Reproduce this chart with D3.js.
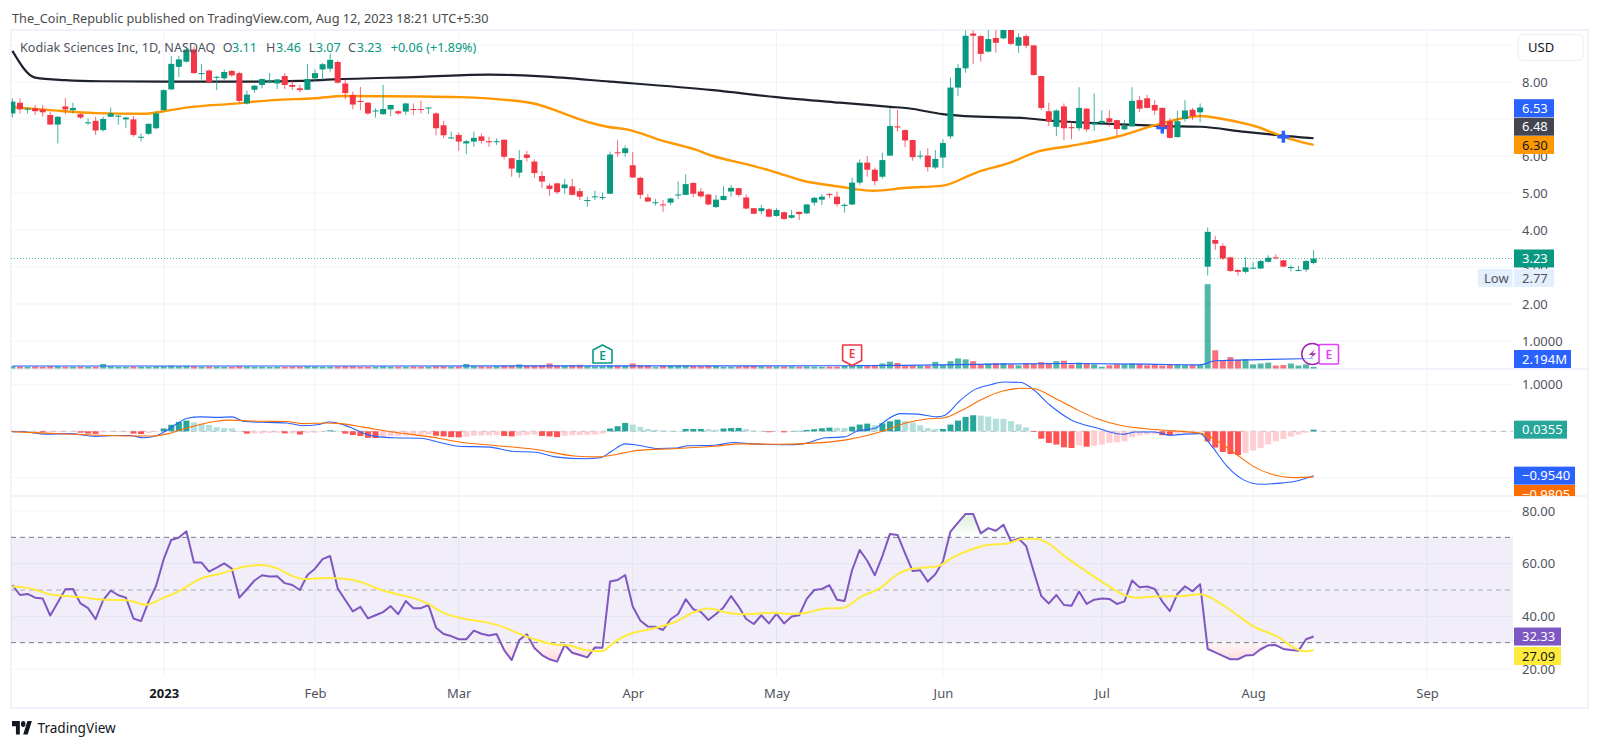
<!DOCTYPE html>
<html><head><meta charset="utf-8">
<script src="https://cdn.jsdelivr.net/npm/d3@7/dist/d3.min.js"></script>
<style>
html,body{margin:0;padding:0;background:#fff;overflow:hidden}
text{font-family:"Noto Sans",sans-serif;font-size:13px}
</style></head><body><svg id="c" width="1600" height="747"></svg>
<script>
const headerText="The_Coin_Republic published on TradingView.com, Aug 12, 2023 18:21 UTC+5:30";
const symbolText="Kodiak Sciences Inc, 1D, NASDAQ";
const opens=[7.15,7.44,7.26,7.29,7.26,7.11,6.85,7.34,7.24,7.13,
6.89,6.95,6.70,7.06,7.08,6.99,6.99,6.51,6.60,6.75,
7.24,7.80,8.41,8.55,8.88,8.23,8.31,8.13,8.10,8.30,
8.24,7.42,7.79,7.92,8.00,7.96,8.16,7.92,7.83,7.79,
8.10,8.34,8.36,8.54,7.96,7.65,7.49,7.44,7.21,7.13,
7.26,7.21,7.20,7.27,7.27,7.30,7.15,6.83,6.49,6.57,
6.34,6.39,6.53,6.40,6.39,6.44,5.94,5.55,6.04,5.85,
5.46,5.20,5.26,5.13,5.18,5.05,4.80,4.90,4.88,4.98,
6.10,6.08,5.75,5.41,4.88,4.74,4.69,4.74,4.95,4.95,
5.27,5.04,4.96,4.62,4.81,5.04,5.13,4.88,4.59,4.51,
4.56,4.38,4.48,4.33,4.49,4.45,4.74,4.82,4.97,4.90,
4.65,4.69,5.28,5.82,5.63,5.44,6.01,6.80,6.70,6.43,
6.00,6.01,5.69,5.96,6.53,7.85,8.37,9.31,9.24,8.82,
9.19,9.18,9.45,8.98,9.24,8.99,8.16,7.21,6.79,7.34,
6.78,6.75,7.28,6.85,6.89,7.02,6.97,6.72,6.80,7.51,
7.56,7.38,7.30,6.94,6.51,7.00,7.25,7.18,3.01,3.73,
3.57,3.26,2.92,2.87,2.96,2.96,3.14,3.26,3.18,2.97,2.91,2.93,3.11];
const highs=[7.56,7.56,7.32,7.38,7.38,7.20,7.08,7.56,7.44,7.15,
7.02,7.06,7.06,7.31,7.11,7.06,7.08,6.61,6.88,7.20,
7.80,8.70,8.70,8.96,8.96,8.49,8.34,8.16,8.34,8.32,
8.28,7.77,7.92,8.10,8.25,8.07,8.24,8.04,7.92,8.49,
8.34,8.52,8.77,8.58,8.07,7.74,7.87,7.46,7.29,7.92,
7.38,7.24,7.44,7.42,7.50,7.31,7.18,6.95,6.66,6.64,
6.43,6.66,6.61,6.52,6.48,6.45,5.94,6.16,6.14,5.91,
5.59,5.26,5.28,5.38,5.38,5.13,4.90,5.06,5.01,6.12,
6.43,6.28,6.11,5.44,4.97,4.84,4.81,4.88,5.31,5.51,
5.29,5.13,4.97,4.95,5.19,5.22,5.14,4.96,4.60,4.68,
4.59,4.59,4.50,4.54,4.50,4.70,4.90,4.97,5.00,5.04,
4.72,5.41,5.91,6.00,5.69,6.09,7.29,7.24,6.72,6.43,
6.14,6.21,6.16,6.45,8.12,8.49,9.40,9.40,9.27,9.45,
9.45,9.50,9.50,9.32,9.29,9.00,8.16,7.44,7.26,7.42,
6.93,7.86,7.30,7.69,7.23,7.24,6.97,6.97,7.86,7.62,
7.65,7.51,7.31,7.02,7.23,7.51,7.30,7.42,4.07,3.84,
3.64,3.28,2.94,3.26,3.14,3.19,3.32,3.34,3.19,3.05,3.03,3.19,3.46];
const lows=[7.04,7.15,7.15,7.11,7.06,6.84,6.34,7.13,7.15,7.00,
6.84,6.57,6.66,7.05,6.84,6.75,6.52,6.39,6.57,6.72,
7.23,7.78,8.13,8.52,8.22,8.07,7.96,7.78,8.05,8.14,
7.44,7.39,7.71,7.83,7.96,7.81,7.81,7.78,7.71,7.78,
8.03,8.05,8.28,7.96,7.53,7.26,7.24,7.11,7.04,7.11,
7.08,7.11,7.11,7.11,7.15,7.14,6.55,6.48,6.46,6.14,
6.05,6.25,6.34,6.25,6.30,5.91,5.44,5.41,5.85,5.41,
5.13,4.93,4.97,4.98,4.93,4.81,4.63,4.81,4.81,4.97,
5.98,5.98,5.41,4.84,4.76,4.66,4.49,4.67,4.84,4.94,
4.88,4.87,4.67,4.59,4.80,4.90,4.90,4.56,4.43,4.42,
4.34,4.36,4.27,4.31,4.27,4.43,4.66,4.68,4.86,4.63,
4.47,4.67,5.22,5.44,5.20,5.39,6.00,6.66,6.24,5.87,
5.91,5.58,5.65,5.67,6.46,7.62,8.25,8.49,8.55,8.80,
8.79,9.16,9.00,8.79,8.91,8.17,7.24,6.81,6.54,6.43,
6.45,6.68,6.66,6.68,6.83,6.79,6.54,6.70,6.79,7.19,
7.29,7.11,6.78,6.47,6.50,6.93,6.97,6.91,2.77,3.46,
3.19,2.87,2.77,2.83,2.95,2.95,3.12,3.21,2.99,2.88,2.89,2.87,3.07];
const closes=[7.47,7.26,7.28,7.21,7.18,6.85,7.06,7.26,7.30,7.04,
6.91,6.69,7.00,7.15,7.09,7.04,6.57,6.52,6.87,7.15,
7.78,8.49,8.61,8.88,8.24,8.24,8.00,8.14,8.27,8.18,
7.49,7.66,7.90,8.08,8.02,8.07,7.92,7.87,7.78,8.08,
8.24,8.48,8.60,7.98,7.70,7.39,7.46,7.15,7.23,7.27,
7.38,7.15,7.42,7.25,7.25,7.31,6.75,6.56,6.50,6.39,
6.40,6.49,6.41,6.37,6.40,5.98,5.66,5.89,5.95,5.54,
5.31,5.11,5.02,5.23,4.95,4.90,4.81,4.91,4.89,6.04,
6.08,6.21,5.42,4.95,4.77,4.75,4.67,4.85,4.96,5.24,
4.98,4.91,4.69,4.82,4.92,5.14,4.95,4.58,4.44,4.59,
4.36,4.54,4.30,4.40,4.43,4.69,4.87,4.90,4.95,4.70,
4.68,5.28,5.82,5.63,5.32,5.89,6.81,6.77,6.42,5.97,
6.01,5.70,5.92,6.35,7.85,8.38,9.25,9.25,8.76,9.16,
9.06,9.45,9.03,9.21,8.98,8.19,7.30,6.93,7.23,6.75,
6.75,7.30,6.72,6.90,6.95,6.92,6.73,6.81,7.49,7.28,
7.30,7.23,6.79,6.49,6.94,7.23,7.08,7.31,3.95,3.63,
3.23,2.89,2.87,2.99,2.98,3.16,3.25,3.24,3.01,3.00,2.92,3.16,3.23];
const volumes=[.5,.45,.4,.45,.4,.5,.5,.4,.4,.45,
.4,.4,1.0,.5,.4,.4,.45,.4,.4,.5,
.5,.6,.5,.55,.5,.4,.45,.4,.4,.4,
.5,.45,.4,.4,.35,.4,.4,.45,.45,.5,
.45,.4,.4,.45,.5,.5,.4,.4,.4,.5,
.4,.4,.4,.45,.4,.4,.5,.5,.4,.45,
1.0,.5,.45,.4,.5,.6,.55,.9,.6,.65,
.75,1.1,.7,.6,.75,.8,.5,.45,.5,.66,
.6,.6,1.1,.7,.65,.3,.6,.6,.6,.6,
.55,.5,.6,.55,.35,.4,.45,.55,.6,.45,
.45,.4,.45,.45,.4,.45,.4,.35,.4,.4,
.55,1.1,.8,.7,.7,1.1,1.5,1.2,.7,.7,
.55,.6,1.45,.8,1.6,2.2,2.0,1.6,.9,1.1,
1.2,1.2,.9,.7,1.2,1.0,1.4,1.1,1.6,1.7,
.9,1.3,1.2,.9,.4,.7,.95,.95,1.1,1.05,
.7,.95,.65,.95,.95,.75,.75,.75,18.5,4.0,
1.8,2.5,1.9,2.0,.9,1.1,1.3,.65,.75,1.1,.65,.9,.35];
const volMaAt=[0,50,110,120,130,140,150,157,159,165,172];
const volMaVal=[.55,.55,.6,.75,.95,1.1,.95,.78,1.7,1.95,2.194];
const smaAt=[0,3,7,11.6,20,29,38,42.4,54,63,70,79,92.6,101,109.4,116,118.4,123,126,134,137,145,152,157,163,168,170,172];
const smaVal=[8.84,8.12,8.05,8.02,8.01,8.01,8.03,8.07,8.14,8.20,8.15,8.01,7.78,7.59,7.44,7.33,7.29,7.13,7.08,7.02,6.96,6.87,6.81,6.79,6.65,6.55,6.51,6.48];
const emaAt=[0,5,11,17.3,20,23.5,29,34.5,40,43.8,54,59.2,68.4,75.9,78.6,81.2,86,90,92.6,97,100.6,104.5,109.4,113.8,118.2,123,127.5,131.9,135.4,139.8,146,151.2,157,160,164.5,168,170.2,172];
const emaVal=[7.32,7.24,7.16,7.14,7.21,7.32,7.41,7.51,7.56,7.62,7.61,7.59,7.44,6.93,6.79,6.72,6.41,6.19,6.00,5.78,5.58,5.33,5.17,5.06,5.14,5.20,5.56,5.82,6.11,6.27,6.52,6.84,7.08,7.00,6.79,6.52,6.39,6.30];
const crossAt=[152,168];
const crossVal=[6.77,6.52];
const histVals=[-.01,-.01,-.01,-.01,-.02,-.02,-.015,-.01,-.01,-.03,
-.05,-.055,-.02,-.01,-.01,-.01,-.05,-.06,-.04,-.02,
.06,.14,.2,.23,.19,.165,.135,.09,.07,.065,
.01,-.05,-.05,-.045,-.035,-.03,-.045,-.045,-.07,-.03,
-.03,-.01,.02,.01,-.05,-.08,-.10,-.14,-.145,-.115,
-.105,-.10,-.09,-.08,-.075,-.07,-.095,-.11,-.125,-.13,
-.115,-.095,-.09,-.085,-.08,-.10,-.11,-.09,-.08,-.07,
-.10,-.11,-.125,-.095,-.085,-.08,-.075,-.07,-.05,.06,
.11,.18,.145,.095,.05,.03,.015,.01,.005,.05,
.05,.05,.045,.035,.06,.07,.072,.05,.015,.005,
-.02,-.005,-.022,.003,.01,.03,.045,.065,.08,.075,
.07,.10,.145,.165,.13,.172,.215,.25,.22,.19,
.13,.07,.05,.05,.145,.23,.31,.345,.337,.315,
.27,.265,.22,.15,.085,-.015,-.16,-.25,-.285,-.345,
-.36,-.30,-.33,-.31,-.285,-.25,-.235,-.215,-.125,-.09,
-.07,-.06,-.085,-.09,-.05,-.04,-.03,-.02,-.22,-.35,
-.445,-.488,-.51,-.47,-.415,-.36,-.28,-.215,-.165,-.115,-.07,-.03,.0355];
const macdAt=[0,1.4,4.4,7.5,11,13.5,15.6,17.3,19.1,20.6,21.9,23.1,24.9,27.2,29,30.7,33.8,36.3,38.3,40.3,41.9,43.4,44.9,46.4,48,50.5,54,56.5,59,63.1,66.1,69.2,71.7,75.8,77.7,79.2,81,82.7,85.3,87.8,89.3,92.8,95.4,97.9,102,104.5,107.5,110,111.6,114.1,115.6,117.4,119.7,122.2,123.2,125.2,127,129.3,131,133.3,134.8,137.1,139.9,143.4,146.7,148.5,151,153,155,157,158.4,160.6,162.8,165,167.2,169.4,172];
const macdVal=[-.01,-.01,-.06,-.05,-.11,-.09,-.09,-.14,-.09,.04,.18,.28,.31,.30,.31,.21,.19,.18,.12,.14,.20,.16,.07,-.04,-.11,-.14,-.15,-.24,-.32,-.34,-.43,-.45,-.55,-.59,-.57,-.43,-.27,-.30,-.37,-.36,-.31,-.30,-.24,-.27,-.29,-.27,-.14,-.12,0,.07,.25,.38,.37,.31,.34,.65,.88,1.0,1.06,1.05,.92,.57,.25,.07,-.065,-.015,-.015,-.085,-.06,-.05,-.29,-.76,-1.05,-1.14,-1.12,-1.08,-.954];
const signalAt=[0,4.4,10.5,15.6,18.6,20.6,22.6,24.7,26.7,28.7,32.8,36.3,38.3,41.4,43.4,46.4,50,55,60.1,64.1,69.2,74.2,77.3,80.7,82.7,87.8,92.8,96.4,101.4,105,110,113.1,115.6,118.1,120.7,123.2,125.7,128.3,130.8,133.3,134.8,138.4,140.9,143.4,146.7,149.5,153.5,157.1,159.3,161.9,164.1,166.8,169.4,172];
const signalVal=[-.01,-.04,-.08,-.10,-.10,-.05,.05,.14,.21,.24,.215,.21,.165,.18,.165,.09,-.01,-.115,-.25,-.31,-.39,-.53,-.55,-.47,-.41,-.37,-.32,-.27,-.28,-.26,-.19,-.085,.035,.18,.26,.29,.47,.70,.86,.925,.92,.66,.45,.27,.12,.06,.01,-.045,-.21,-.51,-.76,-.94,-.996,-.98];
const rsiVals=[51.9,48.1,48.5,47.1,46.8,40.3,45.3,50.3,50.4,44.9,
43.1,38.9,46.2,49.8,48,47.1,39.2,38.2,45.6,51.6,
61.7,69,69.9,72.3,60.4,60.4,57,58.5,60.1,58.1,
47.1,50.3,53.6,55.6,55.1,55.2,52.6,51.9,50,55.7,
58.1,61.7,62.9,50.6,46.2,41.9,43.6,39.2,40.4,41.6,
43.9,40.8,45.8,43.1,43.1,44.3,35.7,33.3,32.5,31.3,
31.3,34.6,33.4,32.7,33.3,27.2,23.4,31,33.2,28,
25.3,23.7,22.8,29.1,26.2,25.3,24.4,28.2,28.1,53.2,
53.8,55.7,43.7,38.4,36.1,36,34.8,38.9,40.9,46.5,
42.7,41.7,38.6,40.9,43.4,47.7,43.7,39,37.1,40.4,
37.3,40.9,37.3,39.9,40.4,46.6,50,50.4,51.8,46.3,
45.8,57.6,65.2,61.1,55.6,62.9,71.3,70.9,63.9,57.2,
57.5,53.2,56,60.8,72.2,75.6,78.9,78.9,71.5,73.5,
72.5,74.8,68.5,69.5,66.7,57,47.7,44.9,48.1,44.3,
44,49.4,44.7,46.3,46.8,46.6,44.7,45.7,53.6,51,
51.3,50.4,45.6,42,48.5,51.4,49.5,52.2,27.6,26.3,
25,23.7,23.7,25.1,25.3,27.5,29,29.1,27.6,27.2,26.9,31.3,32.33];
const rsiMaAt=[0,1.5,3.1,5.2,7.2,9.3,11.4,13.5,15.1,17.7,19.8,21.9,25,27.6,30.8,32.9,35,37,38.6,41.7,44.4,46.5,48.5,51.2,52.7,54.8,56.9,60,62.7,65,66.8,68.9,71.5,73.6,75.7,77.8,79.9,81.5,83.8,86.2,88,89.7,92.1,94.5,96.8,100.4,102.7,105.1,107.4,109.8,112.2,114.5,116.9,118.1,120.4,122.2,124.5,126.9,128.7,131.6,133.4,135.2,136.9,139.3,141.7,144,147,148.7,151.1,154.6,157,160,161.7,164.1,166.4,167.6,168.8,170.9,172];
const rsiMaVal=[51.3,51,50,48.2,47.7,47.2,46.5,46.2,46.1,44.4,46.8,49.4,54.4,56.3,58.9,59.5,58.2,55.3,54.2,54.6,54.1,52.6,50.3,48.2,47.2,45,41.4,38.9,37.7,35.8,33.6,31.4,29.4,28.9,27.2,26.7,30.8,33.2,34.8,36.5,38.4,41.1,43,41.4,40.8,41.4,40.9,41.4,43,43.2,47.5,50.4,55.7,57.5,58.5,58.9,62.7,65.5,67,67.7,69.4,69.5,67.7,62.4,57.6,53.2,48.1,47.1,47.5,47.7,48.4,44.3,40.9,36.1,33.3,31.7,29.1,26.7,27.09];
const timeTickAt=[20,40,59,82,101,123,144,164,187];
const timeTickLabels=["2023","Feb","Mar","Apr","May","Jun","Jul","Aug","Sep"];
const priceTicks=[8,6,5,4,3,2,1];
const priceGrid=[9,8,7,6,5,4,3,2,1];
const macdTicks=[1];
const macdGrid=[1,0,-1];
const rsiTicks=[80,60,40,20];
const rsiLevels=[70,50,30];
const earningsAt=[78,111,174];
const legendParts=[["O","3.11"],["H","3.46"],["L","3.07"],["C","3.23"]];
const legendChange="+0.06 (+1.89%)";
if(opens.length!==173||highs.length!==173||lows.length!==173||closes.length!==173||volumes.length!==173||histVals.length!==173||rsiVals.length!==173) throw new Error("len "+[opens.length,highs.length,lows.length,closes.length,volumes.length,histVals.length,rsiVals.length]);

const UP="#089981",DOWN="#f23645",GRID="#f0f3fa",TXT="#50535e";
const L=11,PR=1513,RIGHT=1588,TOP=30,P1=369,P2=496,P3=677,BOT=708;
const svg=d3.select("#c");
const idx=d3.range(opens.length);
const x=d3.scaleLinear().domain([0,172]).range([12.4,1313.6]);
const y=d3.scaleLinear().domain([8,4]).range([82,230]);
const yV=d3.scaleLinear().domain([0,1]).range([368.5,363.94]);
const yM=d3.scaleLinear().domain([1,0]).range([384.8,431.3]);
const yR=d3.scaleLinear().domain([80,20]).range([511,669]);
const defs=svg.append("defs");
function clip(id,y0,y1){defs.append("clipPath").attr("id",id).append("rect").attr("x",L).attr("y",y0).attr("width",PR-L).attr("height",y1-y0);}
clip("cp",TOP,P1);clip("cm",P1,P2);clip("cr",P2,P3);
defs.append("clipPath").attr("id","cmAxis").append("rect").attr("x",PR).attr("y",P1).attr("width",RIGHT-PR).attr("height",P2-P1);
defs.append("clipPath").attr("id","below30").append("rect").attr("x",L).attr("y",yR(30)).attr("width",PR-L).attr("height",P3-yR(30));
defs.append("clipPath").attr("id","above70").append("rect").attr("x",L).attr("y",TOP).attr("width",PR-L).attr("height",yR(70)-TOP);
const gradG=defs.append("linearGradient").attr("id","gG").attr("gradientUnits","userSpaceOnUse").attr("x1",0).attr("x2",0).attr("y1",yR(80)).attr("y2",yR(70));
gradG.append("stop").attr("offset",0).attr("stop-color","#4caf50").attr("stop-opacity",.22);
gradG.append("stop").attr("offset",1).attr("stop-color","#4caf50").attr("stop-opacity",0);
const gradR=defs.append("linearGradient").attr("id","gR").attr("gradientUnits","userSpaceOnUse").attr("x1",0).attr("x2",0).attr("y1",yR(30)).attr("y2",yR(20));
gradR.append("stop").attr("offset",0).attr("stop-color","#f23645").attr("stop-opacity",.04);
gradR.append("stop").attr("offset",1).attr("stop-color","#f23645").attr("stop-opacity",.25);

svg.append("rect").attr("width",1600).attr("height",747).attr("fill","#fff");
// frame
const frame=svg.append("g").attr("fill","none").attr("stroke",GRID).attr("stroke-width",2);
frame.append("rect").attr("x",L).attr("y",TOP).attr("width",RIGHT-L).attr("height",BOT-TOP);
[P1,P2].forEach(v=>frame.append("line").attr("x1",L).attr("x2",RIGHT).attr("y1",v).attr("y2",v));
// vertical grid
svg.append("g").selectAll("line").data(timeTickAt).join("line")
 .attr("x1",d=>x(d)).attr("x2",d=>x(d)).attr("y1",TOP).attr("y2",P3).attr("stroke",GRID);
// horizontal grids
function hgrid(vals,sc){svg.append("g").selectAll("line").data(vals).join("line").attr("x1",L).attr("x2",PR)
 .attr("y1",d=>sc(d)).attr("y2",d=>sc(d)).attr("stroke",GRID);}
hgrid(priceGrid,y);hgrid(macdGrid,yM);hgrid(rsiTicks,yR);

// ---- price pane
const gp=svg.append("g").attr("clip-path","url(#cp)");
const gv=gp.append("g");
gv.selectAll("rect").data(idx).join("rect")
 .attr("x",i=>x(i)-3).attr("width",6).attr("y",i=>yV(volumes[i])).attr("height",i=>yV(0)-yV(volumes[i]))
 .attr("fill",i=>closes[i]>=opens[i]?UP:DOWN).attr("fill-opacity",.7);
const lineOf=(ats,vals,sc)=>d3.line().curve(d3.curveMonotoneX).x((d,i)=>x(ats[i])).y(d=>sc(d))(vals);
gp.append("path").attr("d",lineOf(volMaAt,volMaVal,yV)).attr("fill","none").attr("stroke","#2962ff").attr("stroke-width",1.2);
gp.append("line").attr("x1",L).attr("x2",PR).attr("y1",y(3.23)).attr("y2",y(3.23)).attr("stroke",UP).attr("stroke-opacity",.7).attr("stroke-dasharray","1 2");
gp.append("path").attr("d",lineOf(smaAt,smaVal,y)).attr("fill","none").attr("stroke","#1e222d").attr("stroke-width",2.2);
gp.append("path").attr("d",lineOf(emaAt,emaVal,y)).attr("fill","none").attr("stroke","#ff9800").attr("stroke-width",2.4);
gp.append("g").selectAll("path").data(crossAt).join("path")
 .attr("d",(d,i)=>`M${x(d)-6},${y(crossVal[i])}h12M${x(d)},${y(crossVal[i])-6}v12`)
 .attr("stroke","#2962ff").attr("stroke-width",3.5).attr("fill","none");
const gc=gp.append("g");
gc.selectAll("line").data(idx).join("line").attr("x1",i=>x(i)).attr("x2",i=>x(i))
 .attr("y1",i=>y(highs[i])).attr("y2",i=>y(lows[i])).attr("stroke",i=>closes[i]>=opens[i]?UP:DOWN).attr("stroke-width",1).attr("stroke-opacity",.75);
gc.selectAll("rect").data(idx).join("rect").attr("x",i=>x(i)-3).attr("width",6)
 .attr("y",i=>Math.min(y(opens[i]),y(closes[i]))).attr("height",i=>Math.max(1,Math.abs(y(opens[i])-y(closes[i]))))
 .attr("fill",i=>closes[i]>=opens[i]?UP:DOWN);

// earnings markers
function house(cx,y0,y1,up,col){
 const w=9.5,n=5;
 const d=up?`M${cx},${y0}L${cx+w},${y0+n}V${y1-1}H${cx-w}V${y0+n}Z`:`M${cx-w},${y0+1}H${cx+w}V${y1-n}L${cx},${y1}L${cx-w},${y1-n}Z`;
 svg.append("path").attr("d",d).attr("fill","#fff").attr("stroke",col).attr("stroke-width",1.6).attr("stroke-linejoin","round");
 svg.append("text").attr("x",cx).attr("y",(y0+y1)/2+(up?5.5:3.5)).attr("text-anchor","middle").attr("fill",col).style("font-size","12px").style("font-weight","600").text("E");
}
house(x(earningsAt[0]),345,364,true,UP);
house(x(earningsAt[1]),344,365.5,false,DOWN);
svg.append("circle").attr("cx",x(172)-1.3).attr("cy",354).attr("r",10.5).attr("fill","#fff").attr("fill-opacity",.6).attr("stroke","#9c27b0").attr("stroke-width",1.5);
svg.append("path").attr("transform",`translate(${x(172)-1.3},354)`).attr("d","M3,-5L-3.5,1H0.5L-3,5.5L4,-0.8H0Z").attr("fill","#9c27b0");
svg.append("rect").attr("x",x(earningsAt[2])-9.7).attr("y",344.5).attr("width",19.5).attr("height",19.5).attr("rx",1.5).attr("fill","#fff").attr("stroke","#e040fb").attr("stroke-width",1.6);
svg.append("text").attr("x",x(earningsAt[2])).attr("y",358.8).attr("text-anchor","middle").attr("fill","#e040fb").style("font-size","12px").style("font-weight","600").text("E");

// ---- MACD pane
const gm=svg.append("g").attr("clip-path","url(#cm)");
gm.append("line").attr("x1",L).attr("x2",PR).attr("y1",yM(0)).attr("y2",yM(0)).attr("stroke","#787b86").attr("stroke-opacity",.5).attr("stroke-dasharray","5 5");
gm.selectAll("rect").data(idx).join("rect").attr("x",i=>x(i)-3).attr("width",6)
 .attr("y",i=>Math.min(yM(0),yM(histVals[i]))).attr("height",i=>Math.abs(yM(0)-yM(histVals[i])))
 .attr("fill",i=>{const v=histVals[i],p=i?histVals[i-1]:0;return v>=0?(v>=p?"#26a69a":"#b2dfdb"):(v<p?"#ff5252":"#ffcdd2");});
gm.append("path").attr("d",lineOf(macdAt,macdVal,yM)).attr("fill","none").attr("stroke","#2962ff").attr("stroke-width",1.1);
gm.append("path").attr("d",lineOf(signalAt,signalVal,yM)).attr("fill","none").attr("stroke","#ff6d00").attr("stroke-width",1.1);

// ---- RSI pane
const gr=svg.append("g").attr("clip-path","url(#cr)");
gr.append("rect").attr("x",L).attr("width",PR-L).attr("y",yR(70)).attr("height",yR(30)-yR(70)).attr("fill","#7e57c2").attr("fill-opacity",.1);
const rsiLine=d3.line().x((d,i)=>x(i)).y(d=>yR(d));
const areaBelow=d3.area().x((d,i)=>x(i)).y0(yR(30)).y1(d=>yR(d));
const areaAbove=d3.area().x((d,i)=>x(i)).y0(yR(70)).y1(d=>yR(d));
gr.append("g").attr("clip-path","url(#below30)").append("path").attr("d",areaBelow(rsiVals)).attr("fill","url(#gR)");
gr.append("g").attr("clip-path","url(#above70)").append("path").attr("d",areaAbove(rsiVals)).attr("fill","url(#gG)");
gr.append("g").selectAll("line").data(rsiLevels).join("line").attr("x1",L).attr("x2",PR).attr("y1",d=>yR(d)).attr("y2",d=>yR(d))
 .attr("stroke","#787b86").attr("stroke-opacity",d=>d===50?.6:1).attr("stroke-dasharray","5 4");
gr.append("path").attr("d",rsiLine(rsiVals)).attr("fill","none").attr("stroke","#7e57c2").attr("stroke-width",2).attr("stroke-linejoin","round");
gr.append("path").attr("d",lineOf(rsiMaAt,rsiMaVal,yR)).attr("fill","none").attr("stroke","#ffeb3b").attr("stroke-width",2);

// ---- axes
function rightAxis(sc,vals,fmt){
 const g=svg.append("g").attr("transform",`translate(${PR+9},0)`).call(d3.axisRight(sc).tickValues(vals).tickSize(0).tickPadding(0).tickFormat(fmt));
 g.select(".domain").remove();
 g.selectAll("text").attr("fill",TXT).style("font-size","13px");
 return g;
}
rightAxis(y,priceTicks,d=>d===1?"1.0000":d3.format(".2f")(d));
rightAxis(yM,macdTicks,d3.format(".4f"));
rightAxis(yR,rsiTicks,d3.format(".2f"));
const gx=svg.append("g").attr("transform",`translate(0,${P3})`).call(d3.axisBottom(x).tickValues(timeTickAt).tickSize(0).tickPadding(12).tickFormat((d,i)=>timeTickLabels[i]));
gx.select(".domain").remove();
gx.selectAll("text").style("font-size","13px").style("font-weight",(d,i)=>timeTickLabels[i]==="2023"?"700":"400").attr("fill",(d,i)=>timeTickLabels[i]==="2023"?"#131722":TXT);

// ---- value labels
function tag(txt,cy,w,bg,fg,cl){
 const g=svg.append("g"); if(cl) g.attr("clip-path","url(#"+cl+")");
 g.append("rect").attr("x",PR+1).attr("y",cy-9).attr("width",w).attr("height",18).attr("fill",bg);
 g.append("text").attr("x",PR+9).attr("y",cy+4.5).attr("fill",fg).style("font-size","13px").text(txt);
}
tag("6.53",108.2,40,"#2962ff","#fff");
tag("6.48",126.7,40,"#434651","#fff");
tag("6.30",145,40,"#ff9800","#131722");
tag("3.23",y(3.23),40,UP,"#fff");
tag("2.77",278,40,"#e3effd","#50535e");
svg.append("rect").attr("x",1478).attr("y",269).attr("width",34.5).attr("height",18).attr("fill","#e3effd");
svg.append("text").attr("x",1484).attr("y",282.5).attr("fill","#50535e").text("Low");
tag("2.194M",359,57,"#2962ff","#fff");
tag("0.0355",yM(.0355),53,"#26a69a","#fff");
tag("\u22120.9540",yM(-.954),61,"#2962ff","#fff");
tag("\u22120.9805",494,61,"#ff6d00","#fff","cmAxis");
tag("32.33",yR(32.33),47,"#7e57c2","#fff");
tag("27.09",656,47,"#ffeb3b","#131722");
// USD
svg.append("rect").attr("x",1518).attr("y",34.5).attr("width",65).attr("height",26).attr("rx",4).attr("fill","#fff").attr("stroke",GRID).attr("stroke-width",1.5);
svg.append("text").attr("x",1528).attr("y",52).attr("fill","#131722").text("USD");

// ---- header and legend
const LF="12.6px";
svg.append("text").attr("x",12).attr("y",22.5).attr("fill","#4a4a4a").style("font-size","12.7px").text(headerText);
svg.append("text").attr("x",20).attr("y",52).attr("fill",TXT).style("font-size",LF).text(symbolText);
const lgx=[222.7,266,308.7,348],lgv=[232,276,315.7,356.7];
legendParts.forEach((p,i)=>{
 svg.append("text").attr("x",lgx[i]).attr("y",52).attr("fill",TXT).style("font-size",LF).text(p[0]);
 svg.append("text").attr("x",lgv[i]).attr("y",52).attr("fill",UP).style("font-size",LF).text(p[1]);
});
svg.append("text").attr("x",390.7).attr("y",52).attr("fill",UP).style("font-size",LF).text(legendChange);

// ---- logo
const logo=svg.append("g").attr("transform",`translate(12,${721-4*.75}) scale(.56,.75)`).attr("fill","#131722");
logo.append("path").attr("d","M14 22H7V11H0V4h14v18zM28 22h-8l7.5-18h8L28 22z");
logo.append("circle").attr("cx",20).attr("cy",8).attr("r",4);
svg.append("text").attr("x",37.5).attr("y",733).attr("fill","#131722").style("font-size","13.6px").text("TradingView");
</script></body></html>
